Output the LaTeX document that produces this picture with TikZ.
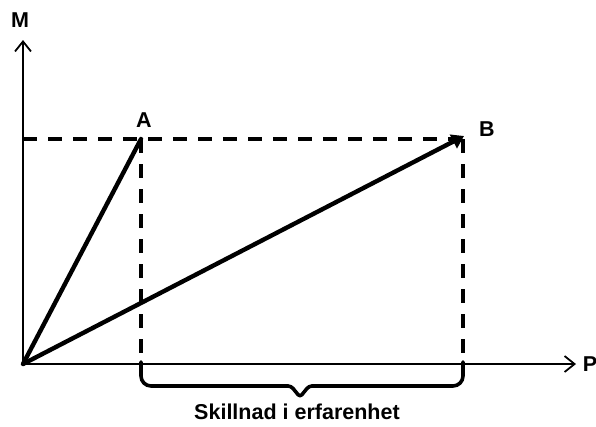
\documentclass[tikz,border=0pt]{standalone}
\usepackage{fontspec}
\setmainfont{Liberation Sans}
\usetikzlibrary{arrows.meta}
\begin{document}
\begin{tikzpicture}[x=1pt,y=-1pt,
  axis/.style={line width=1.8pt,-{Straight Barb[length=10pt,width=16pt,line width=1.8pt]}},
  heavy/.style={line width=4.4pt,line cap=round},
  dashline/.style={line width=4.4pt,dash pattern=on 14pt off 11pt},
  bracestyle/.style={line width=3.6pt,line cap=round,line join=round},
  lbl/.style={font=\bfseries\fontsize{21.5}{24}\selectfont,inner sep=0pt}]
\useasboundingbox (0,0) rectangle (596,426);
\coordinate (O) at (23,364);
\coordinate (Mtop) at (23,40);
\coordinate (Pend) at (576,364);
\coordinate (A) at (141,139);
\coordinate (B) at (464,136);
\coordinate (Ah) at (23,139);
\coordinate (Ab) at (141,368);
\coordinate (Bb) at (463,368);
\coordinate (Btop) at (463,139);
\draw[axis] (O) -- (Mtop);
\draw[axis] (O) -- (Pend);
\node[lbl] (Ml) at (20,20) {M};
\node[lbl] (Pl) at (590,364) {P};
\node[lbl] (Al) at (144,120) {A};
\node[lbl] (Bl) at (487,129) {B};
\draw[dashline] (Ah) -- (Btop);
\draw[dashline] (A) -- (Ab);
\draw[dashline] (Btop) -- (Bb);
\draw[heavy] (O) -- (A);
\draw[line width=4.4pt,-{Triangle[length=12pt,width=15pt]}] (O) -- (B);
\draw[bracestyle,rounded corners=10pt] (141,362) -- (141,386) -- (288,386);
\draw[bracestyle,rounded corners=10pt] (463,362) -- (463,386) -- (312,386);
\draw[bracestyle,rounded corners=3pt] (285,386) -- (291,386) -- (300,397) -- (309,386) -- (315,386);
\node[lbl] (S) at (297,412) {Skillnad i erfarenhet};
\end{tikzpicture}
\end{document}
